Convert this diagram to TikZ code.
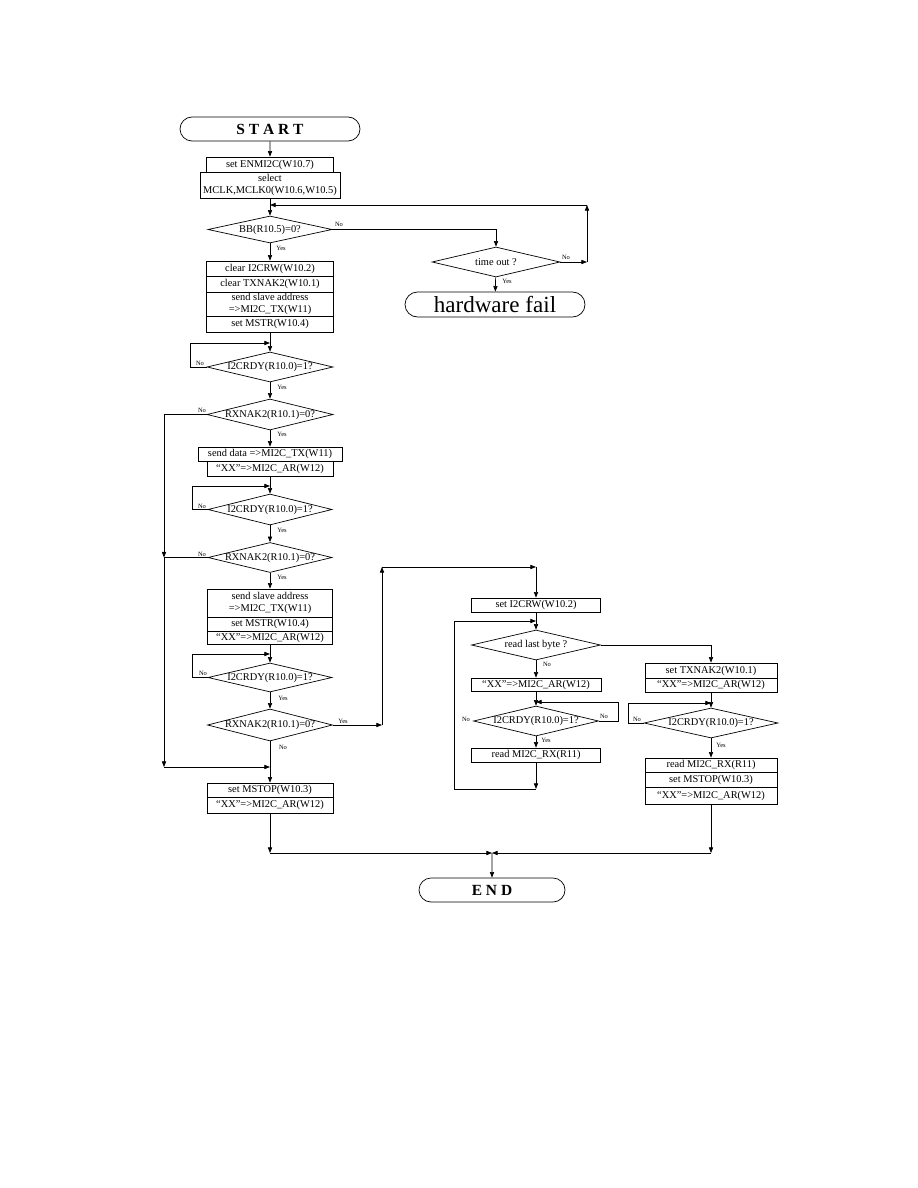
\documentclass[tikz,border=0pt]{standalone}
\usepackage{fontspec}
\setmainfont{Liberation Serif}
\usetikzlibrary{arrows.meta, shapes.geometric, shapes.misc}

\begin{document}
\begin{tikzpicture}[x = 0.025cm, y = -0.025cm, line width = 0.5pt,
    font = \fontsize{7.4}{8.4}\selectfont,
    box/.style 2 args = {draw, rectangle, inner sep = 0pt, align = center,
      minimum width = #1*0.025cm, minimum height = #2*0.025cm},
    test/.style 2 args = {draw, diamond, inner sep = 0pt,
      minimum width = #1*0.025cm, minimum height = #2*0.025cm},
    term/.style 2 args = {draw, rounded rectangle, inner sep = 0pt,
      minimum width = #1*0.025cm, minimum height = #2*0.025cm},
    lbl/.style = {font = \fontsize{4.6}{5}\selectfont, fill = white, inner sep = 0.4pt},
    arr/.style = {-{Triangle[length = 4pt, width = 3pt]}}]
  \useasboundingbox (0,0) rectangle (918,1188);

  % main column
  \node[term={180}{24}, font=\rmfamily\fontsize{11}{13}\selectfont\bfseries] (start) at (270,129) {S T A R T};
  \node[box={127}{15}] (enmi) at (270,164.5) {set ENMI2C(W10.7)};
  \node[box={140}{26}] (mclk) at (270,185) {select\\MCLK,MCLK0(W10.6,W10.5)};
  \coordinate (j1) at (270,205);
  \node[test={124}{27}, label={center:BB(R10.5)=0?}] (bb) at (270,229.5) {};

  \node[test={128}{30}, label={center:time out ?}] (tout) at (496,262) {};
  \node[term={180}{25}, font=\rmfamily\fontsize{16.4}{18}\selectfont] (hwf) at (495,304.5) {hardware fail};
  \coordinate (tr1) at (587,262);
  \coordinate (tr2) at (587,205);

  \node[box={127}{15}] (s1) at (270,268.5) {clear I2CRW(W10.2)};
  \node[box={127}{16}] (s2) at (270,284) {clear TXNAK2(W10.1)};
  \node[box={127}{24}] (s3) at (270,304) {send slave address\\=>MI2C\_TX(W11)};
  \node[box={127}{16}] (s4) at (270,324) {set MSTR(W10.4)};

  \coordinate (j2) at (270,343);
  \node[test={126}{30}, label={center:I2CRDY(R10.0)=1?}] (d3) at (270,367) {};
  \node[test={126}{31}, label={center:RXNAK2(R10.1)=0?}] (d4) at (270,414.5) {};
  \node[box={144}{14}] (s5) at (270,454) {send data =>MI2C\_TX(W11)};
  \node[box={126}{15}] (s6) at (270,468.5) {``XX''=>MI2C\_AR(W12)};

  \coordinate (j3) at (270,486);
  \node[test={124}{31}, label={center:I2CRDY(R10.0)=1?}] (d5) at (270,509.5) {};
  \node[test={124}{30}, label={center:RXNAK2(R10.1)=0?}] (d6) at (270,557.5) {};
  \node[box={125}{28}] (s7) at (270,603) {send slave address\\=>MI2C\_TX(W11)};
  \node[box={125}{14}] (s8) at (270,624) {set MSTR(W10.4)};
  \node[box={125}{13}] (s9) at (270,637.5) {``XX''=>MI2C\_AR(W12)};

  \coordinate (j4) at (270,654);
  \node[test={124}{29}, label={center:I2CRDY(R10.0)=1?}] (d7) at (270,677.5) {};
  \node[test={125}{32}, label={center:RXNAK2(R10.1)=0?}] (d8) at (270,725) {};
  \coordinate (j5) at (270,767);
  \node[box={126}{14}] (s10) at (270,790) {set MSTOP(W10.3)};
  \node[box={126}{16}] (s11) at (270,805) {``XX''=>MI2C\_AR(W12)};

  \coordinate (lb1) at (164,414.5);
  \coordinate (lb2) at (164,557.5);
  \coordinate (lb3) at (164,767);

  % read branch
  \coordinate (ry1) at (382,725);
  \coordinate (ry2) at (382,567);
  \coordinate (ry3) at (536,567);
  \node[box={129}{14}] (r1) at (536,605) {set I2CRW(W10.2)};
  \coordinate (j6) at (536,621);
  \node[test={129}{30}, label={center:read last byte ?}] (d9) at (536,645) {};
  \node[box={130}{13}] (r2) at (536,684.5) {``XX''=>MI2C\_AR(W12)};
  \coordinate (j7) at (536,702);
  \node[test={125}{30}, label={center:I2CRDY(R10.0)=1?}] (d10) at (536,721) {};
  \node[box={129}{14}] (r4) at (536,755) {read MI2C\_RX(R11)};
  \coordinate (j8) at (536,789);
  \coordinate (ol1) at (454,789);
  \coordinate (ol2) at (454,621);
  \coordinate (rl1) at (618,721);
  \coordinate (rl2) at (618,702);

  \node[box={132}{15}] (r3) at (711,670.5) {set TXNAK2(W10.1)};
  \node[box={132}{14}] (r5) at (711,685) {``XX''=>MI2C\_AR(W12)};
  \coordinate (j9) at (711,703);
  \node[test={134}{30}, label={center:I2CRDY(R10.0)=1?}] (d11) at (711,723) {};
  \node[box={132}{14}] (r6) at (711,765) {read MI2C\_RX(R11)};
  \node[box={132}{15}] (r7) at (711,779.5) {set MSTOP(W10.3)};
  \node[box={132}{17}] (r8) at (711,795.5) {``XX''=>MI2C\_AR(W12)};
  \coordinate (cl1) at (628,723);
  \coordinate (cl2) at (628,703);

  % end
  \coordinate (jb1) at (270,853);
  \coordinate (jb2) at (711,853);
  \coordinate (jE) at (492,853);
  \node[term={146}{24}, font=\rmfamily\fontsize{11}{13}\selectfont\bfseries] (stop) at (492,890) {E N D};

  % connectors
  \draw[arr] (start) -- (enmi);
  \draw[arr] (mclk) -- (bb);
  \draw[arr] (bb.east) -| (tout.north);
  \draw[arr] (tout.east) -- (tr1);
  \draw[arr] (tr1) -- (tr2);
  \draw[arr] (tr2) -- (j1);
  \draw[arr] (tout) -- (hwf);
  \draw[arr] (bb) -- (s1);

  \draw[arr] (s4) -- (d3);
  \draw[arr] (d3.west) -- (190,367) -- (190,343) -- (j2);
  \draw[arr] (d3) -- (d4);
  \draw[arr] (d4) -- (s5);
  \draw[arr] (s6) -- (d5);
  \draw[arr] (d5.west) -- (192,509.5) -- (192,486) -- (j3);
  \draw[arr] (d5) -- (d6);
  \draw[arr] (d6) -- (s7);
  \draw[arr] (s9) -- (d7);
  \draw[arr] (d7.west) -- (192,677.5) -- (192,654) -- (j4);
  \draw[arr] (d7) -- (d8);
  \draw[arr] (d8) -- (s10);

  \draw[arr] (d4.west) -- (lb1) -- (lb2);
  \draw (d6.west) -- (lb2);
  \draw[arr] (lb2) -- (lb3);
  \draw[arr] (lb3) -- (j5);

  \draw[arr] (d8.east) -- (ry1);
  \draw[arr] (ry1) -- (ry2);
  \draw[arr] (ry2) -- (ry3);
  \draw[arr] (ry3) -- (r1);
  \draw[arr] (r1) -- (d9);
  \draw[arr] (d9) -- (r2);
  \draw[arr] (r2) -- (d10);
  \draw[arr] (d10) -- (r4);
  \draw[arr] (r4) -- (j8);
  \draw[arr] (j8) -- (ol1) -- (ol2) -- (j6);
  \draw[arr] (d10.east) -- (rl1) -- (rl2) -- (j7);

  \draw[arr] (d9.east) -| (r3.north);
  \draw[arr] (r5) -- (d11);
  \draw[arr] (d11.west) -- (cl1) -- (cl2) -- (j9);
  \draw[arr] (d11) -- (r6);

  \draw[arr] (s11) -- (jb1);
  \draw[arr] (jb1) -- (jE);
  \draw[arr] (r8) -- (jb2);
  \draw[arr] (jb2) -- (jE);
  \draw[arr] (jE) -- (stop);

  % yes / no
  \node[lbl] (n1) at (339,224) {No};
  \node[lbl] (y1) at (281,248) {Yes};
  \node[lbl] (n2) at (566,257) {No};
  \node[lbl] (y2) at (507,281) {Yes};
  \node[lbl] (n3) at (200,363) {No};
  \node[lbl] (y3) at (282,387) {Yes};
  \node[lbl] (n4) at (202,410) {No};
  \node[lbl] (y4) at (282,434) {Yes};
  \node[lbl] (n5) at (202,506) {No};
  \node[lbl] (y5) at (282,530) {Yes};
  \node[lbl] (n6) at (202,554) {No};
  \node[lbl] (y6) at (282,577) {Yes};
  \node[lbl] (n7) at (203,673) {No};
  \node[lbl] (y7) at (283,698) {Yes};
  \node[lbl] (y8) at (343,721) {Yes};
  \node[lbl] (n8) at (283,747) {No};
  \node[lbl] (n9) at (547,664) {No};
  \node[lbl] (n10) at (466,719) {No};
  \node[lbl] (n11) at (604,716) {No};
  \node[lbl] (y10) at (546,740) {Yes};
  \node[lbl] (n12) at (637,719) {No};
  \node[lbl] (y11) at (721,745) {Yes};
\end{tikzpicture}
\end{document}
